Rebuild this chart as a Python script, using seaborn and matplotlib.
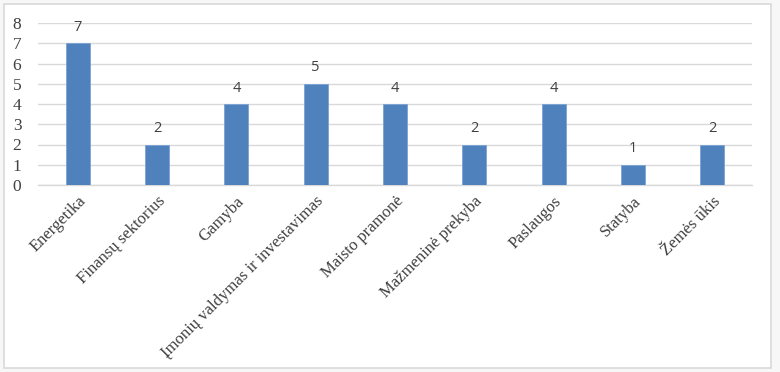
import pandas as pd
import seaborn as sns
import matplotlib.pyplot as plt
from matplotlib.patches import Rectangle

# Data
categories = ['Energetika', 'Finansų sektorius', 'Gamyba', 'Įmonių valdymas ir investavimas',
              'Maisto pramonė', 'Mažmeninė prekyba', 'Paslaugos', 'Statyba', 'Žemės ūkis']
counts = [7, 2, 4, 5, 4, 2, 4, 1, 2]
y_ticks = [0, 1, 2, 3, 4, 5, 6, 7, 8]

data = pd.DataFrame({'sector': categories, 'count': counts})

sns.set_style('white')
plt.rcParams['font.family'] = ['Liberation Serif', 'DejaVu Serif']

fig = plt.figure(figsize=(7.8, 3.72), dpi=100)
fig.patch.set_facecolor('#f7f7f7')
# chart area with grey border
fig.patches.append(Rectangle((4 / 780, 1 - 368 / 372), 767 / 780, 364 / 372,
                             transform=fig.transFigure, facecolor='white',
                             edgecolor='#d9d9d9', linewidth=1.2, zorder=-1))

ax = fig.add_axes([38 / 780, 1 - 185 / 372, 714 / 780, 162 / 372])
ax.set_facecolor('none')

sns.barplot(data=data, x='sector', y='count', color='#4f81bd', saturation=1, width=0.3,
            edgecolor='#7ba3d6', linewidth=0.6, ax=ax, zorder=3)

ax.set_ylim(0, 8)
ax.set_yticks(y_ticks)
ax.set_xlim(-0.5, len(categories) - 0.5)
ax.yaxis.grid(True, color='#d9d9d9', linewidth=1.0, zorder=0)
ax.set_axisbelow(True)
for s in ['top', 'right', 'left']:
    ax.spines[s].set_visible(False)
ax.spines['bottom'].set_color('#d9d9d9')
ax.spines['bottom'].set_linewidth(1.0)
ax.tick_params(axis='both', length=0, colors='#404040')
ax.tick_params(axis='x', pad=6, labelsize=12)
ax.tick_params(axis='y', pad=12, labelsize=12.5)
ax.set_xlabel('')
ax.set_ylabel('')
plt.setp(ax.get_xticklabels(), rotation=45, ha='right', rotation_mode='anchor')

for i, v in enumerate(counts):
    ax.annotate(str(v), (i, v), xytext=(0, 6), textcoords='offset points',
                ha='center', va='bottom', fontsize=10.5, color='#404040',
                family=['Open Sans', 'DejaVu Sans'])

plt.savefig('out.png', dpi=100, facecolor=fig.get_facecolor())
